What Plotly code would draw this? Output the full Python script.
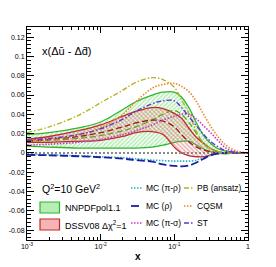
import plotly.graph_objects as go

# x grid (Bjorken x)
x = [0.001, 0.002, 0.005, 0.01, 0.02, 0.03, 0.05, 0.07, 0.1, 0.125, 0.16, 0.2, 0.25, 0.32, 0.4, 0.5, 0.7, 1.0]

nnpdf_up = [0.019, 0.021, 0.026, 0.032, 0.045, 0.053, 0.060, 0.063, 0.063, 0.058, 0.046, 0.031, 0.018, 0.009, 0.004, 0.002, 0.0005, 0]
nnpdf_lo = [0.007, 0.006, 0.005, 0.005, 0.005, 0.005, 0.006, 0.008, 0.011, 0.012, 0.012, 0.008, 0.004, 0.001, 0, -0.001, 0, 0]
nnpdf_c = [0.012, 0.013, 0.015, 0.018, 0.023, 0.027, 0.034, 0.040, 0.044, 0.040, 0.031, 0.020, 0.010, 0.004, 0.001, 0, 0, 0]

dssv_up = [0.014, 0.017, 0.023, 0.029, 0.038, 0.043, 0.047, 0.046, 0.041, 0.036, 0.025, 0.016, 0.010, 0.004, 0.001, 0, 0, 0]
dssv_lo = [0.011, 0.011, 0.012, 0.013, 0.017, 0.021, 0.022, 0.019, 0.006, 0.0, -0.003, -0.004, -0.004, -0.002, -0.0005, 0, 0, 0]
dssv_c = [0.012, 0.014, 0.017, 0.021, 0.027, 0.031, 0.034, 0.033, 0.027, 0.019, 0.011, 0.006, 0.003, 0.001, 0, 0, 0, 0]

pb = [0.021, 0.027, 0.039, 0.052, 0.065, 0.073, 0.078, 0.076, 0.068, 0.055, 0.040, 0.022, 0.010, 0.004, 0.001, 0, 0, 0]
cqsm = [0.012, 0.014, 0.019, 0.026, 0.040, 0.053, 0.067, 0.071, 0.072, 0.069, 0.063, 0.053, 0.040, 0.026, 0.016, 0.008, 0.002, 0]
st = [0.013, 0.015, 0.019, 0.025, 0.035, 0.043, 0.051, 0.054, 0.054, 0.047, 0.037, 0.028, 0.019, 0.011, 0.006, 0.002, 0.0005, 0]
mc_pisig = [0.008, 0.009, 0.011, 0.014, 0.019, 0.023, 0.029, 0.034, 0.038, 0.040, 0.040, 0.035, 0.028, 0.020, 0.012, 0.005, 0.001, 0]
mc_pirho = [-0.0015, -0.002, -0.003, -0.004, -0.005, -0.006, -0.0075, -0.008, -0.0085, -0.0085, -0.0085, -0.0075, -0.005, -0.0025, -0.001, 0, 0, 0]
mc_rho = [-0.002, -0.0025, -0.0035, -0.0045, -0.006, -0.0075, -0.009, -0.012, -0.0135, -0.014, -0.013, -0.010, -0.006, -0.002, -0.0005, 0, 0, 0]
zero = [0.0] * len(x)

ytick_vals = [-0.08, -0.06, -0.04, -0.02, 0, 0.02, 0.04, 0.06, 0.08, 0.1, 0.12]
ytick_text = ["-0.08", "-0.06", "-0.04", "-0.02", "0", "0.02", "0.04", "0.06", "0.08", "0.1", "0.12"]
xtick_vals = [0.001, 0.01, 0.1, 1]
xtick_text = ["10<sup>-3</sup>", "10<sup>-2</sup>", "10<sup>-1</sup>", "1"]

GREEN = "#2fb52f"
RED = "#c42a2a"
C_PIRHO = "#25b5b5"
C_RHO = "#1c1caa"
C_PISIG = "#c43cc4"
C_PB = "#b4b422"
C_CQSM = "#e8892a"
C_ST = "#5e34d6"

DOT = "1.5px,1.5px"
LDASH = "8px,3px"
DASHDOT = "5px,2px,1.5px,2px"

fig = go.Figure()

# NNPDF band
fig.add_trace(go.Scatter(x=x, y=nnpdf_lo, mode="lines", line=dict(color=GREEN, width=1.3, shape="spline"),
                         showlegend=False, hoverinfo="skip"))
fig.add_trace(go.Scatter(x=x, y=nnpdf_up, mode="lines", fill="tonexty", name="NNPDFpol1.1", showlegend=False,
                         line=dict(color=GREEN, width=1.3, shape="spline"),
                         fillcolor="rgba(0,0,0,0)",
                         fillpattern=dict(shape="/", fgcolor="#72dc72", bgcolor="rgba(255,255,255,0)", size=3, solidity=0.55)))
# DSSV band
fig.add_trace(go.Scatter(x=x, y=dssv_lo, mode="lines", line=dict(color=RED, width=1.3, shape="spline"),
                         showlegend=False, hoverinfo="skip"))
fig.add_trace(go.Scatter(x=x, y=dssv_up, mode="lines", fill="tonexty", name="DSSV08", showlegend=False,
                         line=dict(color=RED, width=1.3, shape="spline"),
                         fillcolor="rgba(0,0,0,0)",
                         fillpattern=dict(shape="\\", fgcolor="#e06a6a", bgcolor="rgba(255,255,255,0)", size=3, solidity=0.55)))
fig.add_trace(go.Scatter(x=x, y=nnpdf_c, mode="lines", line=dict(color="#6a9a20", width=1.2, dash="6px,3px", shape="spline"),
                         showlegend=False))
fig.add_trace(go.Scatter(x=x, y=dssv_c, mode="lines", line=dict(color="#a01818", width=1.3, dash="6px,3px", shape="spline"),
                         showlegend=False))

# zero line
fig.add_trace(go.Scatter(x=x, y=zero, mode="lines", line=dict(color="#8a8a8a", width=2, dash="2px,2px"), showlegend=False))

# models
models = [
    ("MC (π-ρ)", mc_pirho, C_PIRHO, DOT, 1.6),
    ("MC (ρ)", mc_rho, C_RHO, LDASH, 1.8),
    ("MC (π-σ)", mc_pisig, C_PISIG, DOT, 1.6),
    ("PB (ansatz)", pb, C_PB, DASHDOT, 1.4),
    ("CQSM", cqsm, C_CQSM, DOT, 1.6),
    ("ST", st, C_ST, DASHDOT, 1.4),
]
for name, ys, col, dash, w in models:
    fig.add_trace(go.Scatter(x=x, y=ys, mode="lines", name=name, showlegend=False,
                             line=dict(color=col, width=w, dash=dash, shape="spline")))

FONT = "Liberation Sans, Arial, sans-serif"

# legend keys (paper coordinates; purely decorative)
def px(v):
    return (v - 27) / 221.0

def py(v):
    return (240 - v) / 213.0

shapes = []
annotations = []
# band legend boxes
for (name, y0, fc, lc) in [("NNPDFpol1.1", 202, "rgba(120,222,120,0.55)", GREEN),
                           ("DSSV08 Δχ<sup>2</sup>=1", 219, "rgba(236,120,120,0.55)", RED)]:
    shapes.append(dict(type="rect", xref="paper", yref="paper", x0=px(40), x1=px(59.5), y0=py(y0), y1=py(y0 + 11),
                       fillcolor=fc, line=dict(color=lc, width=1.2), layer="above"))
    annotations.append(dict(text=name, xref="paper", yref="paper", x=px(63), y=py(y0 + 5.5),
                            xanchor="left", yanchor="middle", showarrow=False,
                            font=dict(family=FONT, size=9, color="black")))
# model legend lines
cols = [(131, 142, 144), (131, 142, 144), (131, 142, 144), (184, 193, 195), (184, 193, 195), (184, 193, 195)]
rows = [188, 206, 223, 188, 206, 223]
for (name, ys, col, dash, w), (xa, xb, xt), yy in zip(models, cols, rows):
    shapes.append(dict(type="line", xref="paper", yref="paper", x0=px(xa), x1=px(xb), y0=py(yy), y1=py(yy),
                       line=dict(color=col, width=w, dash=dash), layer="above"))
    annotations.append(dict(text=name, xref="paper", yref="paper", x=px(xt), y=py(yy),
                            xanchor="left", yanchor="middle", showarrow=False,
                            font=dict(family=FONT, size=8.5, color="black")))

annotations.append(dict(text="x(Δū - Δd̄)", xref="paper", yref="paper", x=px(40), y=py(51),
                        xanchor="left", yanchor="middle", showarrow=False, font=dict(family=FONT, size=11)))
annotations.append(dict(text="Q<sup>2</sup>=10 GeV<sup>2</sup>", xref="paper", yref="paper", x=px(40), y=py(188),
                        xanchor="left", yanchor="middle", showarrow=False, font=dict(family=FONT, size=10.5)))
annotations.append(dict(text="<b>x</b>", xref="paper", yref="paper", x=px(137.5), y=py(256),
                        xanchor="center", yanchor="middle", showarrow=False, font=dict(family=FONT, size=10)))

fig.update_layout(
    width=276, height=267,
    margin=dict(l=27, r=28, t=27, b=27),
    paper_bgcolor="white", plot_bgcolor="white",
    showlegend=False,
    font=dict(family=FONT, size=7, color="black"),
    xaxis=dict(type="log", range=[-3, 0], tickvals=xtick_vals, ticktext=xtick_text,
               ticks="inside", ticklen=6, tickwidth=1, tickcolor="black",
               showline=True, linecolor="black", linewidth=1, mirror="ticks",
               showgrid=False, zeroline=False, automargin=False,
               tickfont=dict(family=FONT, size=7),
               minor=dict(ticks="inside", ticklen=3, tickcolor="black", dtick="D1", showgrid=False)),
    yaxis=dict(range=[-0.0903, 0.1305], tickvals=ytick_vals, ticktext=ytick_text,
               ticks="inside", ticklen=7, tickwidth=1, tickcolor="black",
               showline=True, linecolor="black", linewidth=1, mirror="ticks",
               showgrid=False, zeroline=False, automargin=False,
               tickfont=dict(family=FONT, size=7),
               minor=dict(ticks="inside", ticklen=3.5, tickcolor="black", dtick=0.004, showgrid=False)),
    shapes=shapes,
    annotations=annotations,
)

fig.write_html("out.html", config={"displayModeBar": False},
               post_script="document.body.style.margin='0';document.body.style.padding='0';")
